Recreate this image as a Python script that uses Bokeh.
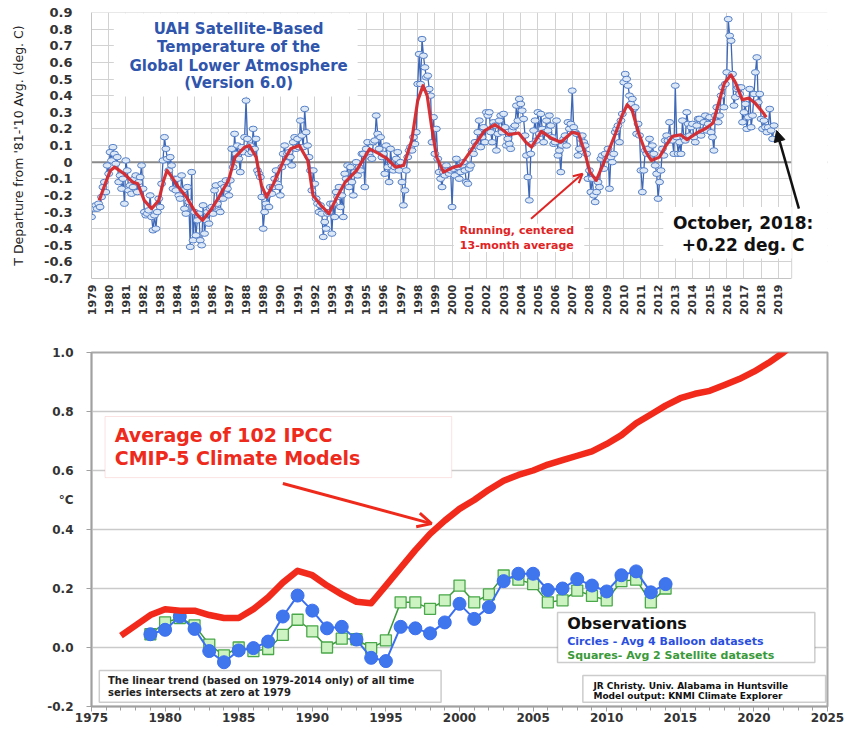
import math
from bokeh.plotting import figure
from bokeh.models import (Range1d, FixedTicker, Span, BoxAnnotation, Label, Arrow,
                          OpenHead, NormalHead, NumeralTickFormatter)
from bokeh.layouts import column
from bokeh.embed import file_html
from bokeh.resources import INLINE

FONT = "DejaVu Sans"

# ---------------- top chart data: UAH v6.0 monthly anomalies ----------------
uah_1979_1988 = [
    -0.33, -0.27, -0.28, -0.26, -0.28, -0.25, -0.27, -0.21, -0.15, -0.12, -0.18, -0.02,
    -0.07, 0.06, 0.01, 0.09, 0.05, -0.01, 0.03, -0.12, -0.08, -0.16, -0.10, -0.25,
    0.01, -0.05, -0.17, -0.14, -0.19, -0.15, -0.10, -0.08, -0.18, -0.12, -0.09, -0.02,
    -0.16, -0.30, -0.32, -0.31, -0.29, -0.20, -0.33, -0.41, -0.32, -0.40, -0.30, -0.22,
    -0.27, -0.13, 0.01, 0.15, 0.08, 0.02, -0.05, 0.03, -0.02, -0.16, -0.10, -0.17,
    -0.10, -0.20, -0.22, -0.08, -0.17, -0.28, -0.31, -0.15, -0.24, -0.51, -0.06, -0.47,
    -0.30, -0.44, -0.35, -0.31, -0.47, -0.50, -0.26, -0.43, -0.35, -0.30, -0.37, -0.28,
    -0.27, -0.31, -0.17, -0.14, -0.25, -0.29, -0.30, -0.13, -0.22, -0.15, -0.11, -0.16,
    -0.20, -0.11, 0.08, -0.03, 0.17, 0.05, 0.10, 0.02, -0.06, 0.09, 0.06, 0.15,
    0.37, 0.14, 0.05, 0.10, 0.06, 0.20, 0.08, 0.14, -0.05, -0.07, -0.09, -0.21,
]
uah_1989_1998 = [
    -0.40, -0.30, -0.25, -0.20, -0.27, -0.15, -0.19, -0.15, -0.10, -0.05, -0.13, -0.15,
    -0.20, -0.03, 0.05, 0.10, 0.00, 0.05, 0.06, 0.03, -0.02, 0.12, 0.15, 0.08,
    0.14, 0.09, 0.25, 0.16, 0.09, 0.32, 0.18, 0.10, 0.03, -0.05, -0.17, -0.05,
    -0.13, -0.22, -0.25, -0.30, -0.26, -0.31, -0.45, -0.36, -0.40, -0.31, -0.30, -0.25,
    -0.43, -0.25, -0.33, -0.18, -0.21, -0.15, -0.27, -0.20, -0.33, -0.07, -0.10, -0.02,
    -0.15, -0.03, -0.12, -0.20, -0.06, 0.00, -0.08, -0.03, -0.05, 0.05, 0.05, -0.15,
    0.08, 0.12, 0.05, 0.03, 0.02, 0.12, 0.13, 0.28, 0.17, 0.08, 0.15, 0.03,
    0.05, -0.07, 0.10, -0.03, -0.12, 0.08, -0.02, -0.05, -0.03, 0.02, 0.06, -0.05,
    0.00, -0.12, -0.26, -0.17, -0.05, 0.03, 0.07, 0.09, 0.07, 0.15, 0.11, 0.18,
    0.47, 0.65, 0.47, 0.74, 0.64, 0.57, 0.51, 0.52, 0.44, 0.40, 0.12, 0.27,
]
uah_1999_2008 = [
    0.05, 0.20, 0.02, -0.06, -0.10, -0.15, -0.06, -0.08, -0.02, -0.05, -0.07, -0.05,
    -0.27, -0.04, -0.08, 0.02, -0.03, -0.10, -0.06, -0.02, 0.00, -0.05, -0.12, -0.13,
    -0.04, -0.02, 0.07, 0.05, 0.12, 0.10, 0.18, 0.25, 0.09, 0.15, 0.21, 0.12,
    0.30, 0.28, 0.30, 0.18, 0.12, 0.24, 0.22, 0.07, 0.17, 0.25, 0.28, 0.18,
    0.29, 0.21, 0.10, 0.14, 0.11, 0.08, 0.19, 0.21, 0.22, 0.34, 0.25, 0.38,
    0.35, 0.31, 0.26, 0.16, 0.04, -0.09, -0.23, 0.05, 0.11, 0.19, 0.25, 0.13,
    0.30, 0.17, 0.29, 0.20, 0.12, 0.18, 0.25, 0.19, 0.28, 0.22, 0.15, 0.11,
    0.12, 0.25, 0.04, 0.07, -0.06, 0.10, 0.14, 0.16, 0.10, 0.24, 0.20, 0.23,
    0.43, 0.21, 0.18, 0.17, 0.04, 0.08, 0.14, 0.16, 0.12, 0.10, 0.05, -0.10,
    -0.05, -0.18, -0.10, -0.20, -0.24, -0.18, -0.12, -0.15, 0.02, 0.04, -0.04, 0.05,
]
uah_2009_2018 = [
    0.02, 0.08, -0.16, 0.03, 0.00, 0.05, 0.18, 0.20, 0.22, 0.12, 0.25, 0.29,
    0.48, 0.53, 0.50, 0.46, 0.40, 0.35, 0.38, 0.32, 0.33, 0.17, 0.23, 0.16,
    -0.05, -0.18, -0.05, 0.07, 0.05, 0.08, 0.14, 0.04, 0.10, 0.05, -0.02, -0.07,
    -0.22, -0.12, -0.05, 0.08, 0.04, 0.13, 0.16, 0.13, 0.24, 0.14, 0.13, 0.05,
    0.46, 0.15, 0.05, 0.12, 0.05, 0.25, 0.15, 0.13, 0.30, 0.23, 0.16, 0.21,
    0.23, 0.15, 0.12, 0.22, 0.26, 0.26, 0.16, 0.19, 0.24, 0.28, 0.19, 0.23,
    0.27, 0.18, 0.15, 0.07, 0.28, 0.33, 0.24, 0.28, 0.40, 0.45, 0.33, 0.47,
    0.54, 0.86, 0.76, 0.73, 0.53, 0.34, 0.39, 0.44, 0.45, 0.41, 0.45, 0.24,
    0.30, 0.35, 0.20, 0.27, 0.44, 0.21, 0.28, 0.41, 0.54, 0.63, 0.36, 0.41,
    0.26, 0.20, 0.25, 0.21, 0.18, 0.21, 0.32, 0.19, 0.14, 0.22,
]
# running, centered 13-month average
ra_x = [1979.45, 1979.8, 1980.1, 1980.35, 1980.9, 1981.4, 1981.7, 1982.07, 1982.5, 1982.92,
        1983.2, 1983.4, 1983.68, 1984.06, 1984.53, 1985.1, 1985.47, 1985.94, 1986.42, 1986.98,
        1987.36, 1987.92, 1988.2, 1988.59, 1988.9, 1989.2, 1989.6, 1990.2, 1990.6, 1991.1,
        1991.6, 1991.9, 1992.36, 1992.83, 1993.3, 1993.78, 1994.44, 1995.2, 1995.76, 1996.23,
        1996.7, 1997.18, 1997.65, 1998.0, 1998.31, 1998.55, 1998.8, 1999.1, 1999.5, 2000.1,
        2000.5, 2001.04, 2001.5, 2001.9, 2002.5, 2002.93, 2003.3, 2003.88, 2004.3, 2004.63,
        2005.2, 2005.76, 2006.33, 2006.99, 2007.37, 2007.75, 2008.03, 2008.4, 2008.97, 2009.53,
        2009.92, 2010.2, 2010.48, 2010.86, 2011.24, 2011.6, 2012.08, 2012.46, 2012.83, 2013.31,
        2013.69, 2014.25, 2014.82, 2015.2, 2015.58, 2015.86, 2016.24, 2016.52, 2016.9, 2017.28,
        2017.65, 2018.13, 2018.3]
ra_y = [-0.23, -0.13, -0.05, -0.03, -0.07, -0.12, -0.13, -0.23, -0.28, -0.23,
        -0.11, -0.05, -0.09, -0.15, -0.21, -0.31, -0.35, -0.29, -0.21, -0.11,
        0.03, 0.09, 0.10, 0.03, -0.14, -0.21, -0.13, 0.01, 0.08, 0.10,
        0.01, -0.20, -0.26, -0.31, -0.21, -0.12, -0.05, 0.08, 0.05, 0.02,
        -0.03, -0.02, 0.13, 0.37, 0.46, 0.40, 0.22, 0.03, -0.06, -0.03,
        -0.02, 0.06, 0.13, 0.19, 0.225, 0.195, 0.165, 0.175, 0.12, 0.09,
        0.185, 0.145, 0.12, 0.18, 0.17, 0.05, -0.06, -0.11, 0.03, 0.175,
        0.285, 0.345, 0.315, 0.175, 0.07, 0.01, 0.03, 0.10, 0.155, 0.165,
        0.135, 0.175, 0.205, 0.235, 0.375, 0.475, 0.525, 0.475, 0.375, 0.385,
        0.355, 0.295, 0.27]
top_years = list(range(1979, 2020))
top_yticks = [-0.7, -0.6, -0.5, -0.4, -0.3, -0.2, -0.1, 0, 0.1, 0.2, 0.3, 0.4, 0.5, 0.6, 0.7, 0.8, 0.9]
title_lines = ["UAH Satellite-Based", "Temperature of the", "Global Lower Atmosphere", "(Version 6.0)"]

# ---------------- bottom chart data ----------------
model_years = list(range(1977, 2024))
model_avg = [0.04, 0.075, 0.11, 0.13, 0.125, 0.125, 0.11, 0.10, 0.10, 0.13, 0.17, 0.22, 0.26, 0.245,
             0.21, 0.18, 0.155, 0.15, 0.21, 0.27, 0.33, 0.385, 0.43, 0.47, 0.50, 0.535, 0.565,
             0.585, 0.60, 0.62, 0.635, 0.65, 0.665, 0.69, 0.72, 0.76, 0.79, 0.82, 0.845, 0.86,
             0.87, 0.89, 0.91, 0.935, 0.965, 1.0, 1.04]
obs_years = list(range(1979, 2015))
balloon = [0.045, 0.06, 0.105, 0.063, -0.012, -0.05, -0.01, -0.002, 0.02, 0.105, 0.176, 0.125,
           0.065, 0.07, 0.027, -0.035, -0.046, 0.07, 0.065, 0.048, 0.085, 0.148, 0.097, 0.137,
           0.225, 0.25, 0.25, 0.195, 0.2, 0.232, 0.21, 0.19, 0.245, 0.258, 0.187, 0.215]
satellite = [0.045, 0.085, 0.10, 0.075, 0.01, -0.027, 0.0, -0.012, -0.005, 0.043, 0.094, 0.055,
             0.0, 0.03, 0.028, -0.002, 0.024, 0.153, 0.153, 0.131, 0.16, 0.21, 0.153, 0.18,
             0.244, 0.23, 0.215, 0.153, 0.16, 0.193, 0.175, 0.16, 0.225, 0.23, 0.153, 0.2]
bot_xticks = [1975, 1980, 1985, 1990, 1995, 2000, 2005, 2010, 2015, 2020, 2025]
bot_yticks = [-0.2, 0.0, 0.2, 0.4, 0.6, 0.8, 1.0]
bot_ylabels = [-0.2, 0.0, 0.2, 0.4, 0.5, 0.6, 0.8, 1.0]   # 0.5 carries the unit label


def lab(p, x, y, text, size, color, align="left", bold=True, **kw):
    p.add_layout(Label(x=x, y=y, text=text, text_font=FONT, text_font_size=f"{size}px",
                       text_font_style="bold" if bold else "normal", text_color=color,
                       text_align=align, text_baseline="middle", **kw))


GRID = "#d2d2d2"
X_END_DATA = 2019.78
X_END_FRAME = 1979 + 757 / 17.66

# ======================= TOP FIGURE =======================
monthly = uah_1979_1988 + uah_1989_1998 + uah_1999_2008 + uah_2009_2018
mx = [1979 + i / 12 for i in range(len(monthly))]

p1 = figure(width=848, height=330, x_range=Range1d(1979, X_END_FRAME), y_range=Range1d(-0.7, 0.9),
            output_backend="svg", toolbar_location=None,
            min_border_left=91, min_border_right=0, min_border_top=12, min_border_bottom=52)
p1.background_fill_color = "white"
p1.outline_line_color = None
p1.xaxis.ticker = FixedTicker(ticks=top_years)
p1.xgrid.ticker = FixedTicker(ticks=top_years)
p1.yaxis.ticker = FixedTicker(ticks=top_yticks)
p1.ygrid.ticker = FixedTicker(ticks=top_yticks)
p1.yaxis.formatter = NumeralTickFormatter(format="0.0")
p1.yaxis.major_label_overrides = {0: "0"}
for g in (p1.xgrid, p1.ygrid):
    g.grid_line_color = GRID
    g.grid_line_width = 1
p1.xaxis.major_label_orientation = math.pi / 2
p1.xaxis.bounds = (1979, X_END_DATA)
for ax in (p1.xaxis, p1.yaxis):
    ax.axis_line_color = "#c4c4c4"
    ax.major_tick_line_color = None
    ax.minor_tick_line_color = None
    ax.major_tick_out = 0
    ax.major_tick_in = 0
    ax.major_label_text_font = FONT
    ax.major_label_text_font_style = "bold"
    ax.major_label_text_color = "#333333"
p1.xaxis.major_label_text_font_size = "11px"
p1.xaxis.major_label_standoff = 6
p1.yaxis.major_label_text_font_size = "13px"
p1.yaxis.major_label_standoff = 19
p1.yaxis.axis_label = "T Departure from '81-'10 Avg. (deg. C)"
p1.yaxis.axis_label_text_font = FONT
p1.yaxis.axis_label_text_font_size = "12.5px"
p1.yaxis.axis_label_text_font_style = "normal"
p1.yaxis.axis_label_text_color = "#222222"
p1.yaxis.axis_label_standoff = 15

p1.add_layout(Span(location=0.9, dimension="width", line_color=GRID, line_width=1, level="underlay"))
p1.add_layout(Span(location=0, dimension="width", line_color="#8a8a8a", line_width=2, level="underlay"))

p1.line(mx, monthly, line_color="#3d68b8", line_width=1.3)
p1.ellipse(x=mx, y=monthly, width=8, height=5.5, width_units="screen", height_units="screen",
           fill_color="#dde8f6", line_color="#5580c8", line_width=1)
p1.line(ra_x, ra_y, line_color="#d5282c", line_width=3.2, line_join="round", line_alpha=0.95)

# blank area right of the data region
p1.add_layout(BoxAnnotation(left=X_END_DATA, right=X_END_FRAME + 1, bottom=-0.8, top=1.0,
                            fill_color="white", fill_alpha=1, line_color=None))
p1.add_layout(Span(location=X_END_DATA, dimension="height", line_color=GRID, line_width=1))

# title box
p1.add_layout(BoxAnnotation(left=1980.3, right=1994.5, bottom=0.395, top=0.895,
                            fill_color="white", fill_alpha=1, line_color=None))
for t, yy in zip(title_lines, [0.80, 0.69, 0.58, 0.475]):
    lab(p1, 1987.57, yy, t, 15, "#2f55ac", align="center")

# running-average note
p1.add_layout(BoxAnnotation(left=2000.1, right=2007.7, top=-0.37, bottom=-0.54,
                            fill_color="white", fill_alpha=1, line_color=None))
lab(p1, 2003.77, -0.41, "Running, centered", 11, "#e02424", align="center")
lab(p1, 2003.77, -0.50, "13-month average", 11, "#e02424", align="center")
p1.add_layout(Arrow(end=OpenHead(line_color="#e02424", line_width=2, size=9),
                    x_start=2004.6, y_start=-0.34, x_end=2007.6, y_end=-0.07,
                    line_color="#e02424", line_width=2))

# October 2018 note
p1.add_layout(BoxAnnotation(left=2012.3, right=X_END_DATA, top=-0.27, bottom=-0.58,
                            fill_color="white", fill_alpha=1, line_color=None))
lab(p1, 2016.95, -0.367, "October, 2018:", 17, "#111111", align="center")
lab(p1, 2016.95, -0.50, "+0.22 deg. C", 17, "#111111", align="center")
p1.add_layout(Arrow(end=NormalHead(fill_color="#111111", line_color="#111111", size=11),
                    x_start=2020.2, y_start=-0.28, x_end=2018.9, y_end=0.19,
                    line_color="#111111", line_width=2.5))

# ======================= BOTTOM FIGURE =======================
p2 = figure(width=848, height=398, x_range=Range1d(1975, 2025), y_range=Range1d(-0.2, 1.0),
            output_backend="svg", toolbar_location=None,
            min_border_left=68, min_border_right=21, min_border_top=22, min_border_bottom=22)
p2.outline_line_color = "#a8a8a8"
p2.outline_line_width = 2
p2.xgrid.grid_line_color = None
p2.ygrid.ticker = FixedTicker(ticks=bot_yticks)
p2.ygrid.grid_line_color = "#cacaca"
p2.ygrid.grid_line_width = 1.5
p2.xaxis.ticker = FixedTicker(ticks=bot_xticks, minor_ticks=list(range(1975, 2026)))
p2.yaxis.ticker = FixedTicker(ticks=bot_ylabels, minor_ticks=bot_yticks)
p2.yaxis.formatter = NumeralTickFormatter(format="0.0")
p2.yaxis.major_label_overrides = {0.5: "°C"}
for ax in (p2.xaxis, p2.yaxis):
    ax.axis_line_color = "#a0a0a0"
    ax.axis_line_width = 1.5
    ax.major_tick_line_color = "#a0a0a0"
    ax.minor_tick_line_color = "#a0a0a0"
    ax.major_tick_in = 0
    ax.minor_tick_in = 0
    ax.major_tick_out = 5
    ax.minor_tick_out = 4
    ax.major_label_text_font = FONT
    ax.major_label_text_font_style = "bold"
    ax.major_label_text_font_size = "12px"
    ax.major_label_text_color = "#333333"
p2.yaxis.major_tick_line_color = None
p2.yaxis.minor_tick_out = 5
p2.xaxis.major_label_standoff = 1
p2.yaxis.major_label_standoff = 13

p2.line(obs_years, satellite, line_color="#3c9a3c", line_width=1.5)
p2.scatter(obs_years, satellite, marker="square", size=11, fill_color="#cdf3c3",
           line_color="#4aa84a", line_width=1.3)
p2.line(obs_years, balloon, line_color="#3a6ff0", line_width=2)
p2.scatter(obs_years, balloon, marker="circle", size=13, fill_color="#3f76ee",
           line_color="#3a6ff0", line_width=1)
p2.line(model_years, model_avg, line_color="#f22a1c", line_width=6.5, line_join="round")

# IPCC note
p2.add_layout(BoxAnnotation(left=1975.92, right=1999.47, bottom=0.576, top=0.783,
                            fill_color="white", fill_alpha=1, line_color="#f2a0a0", line_width=1))
lab(p2, 1976.58, 0.722, "Average of 102 IPCC", 19, "#ee2a1c")
lab(p2, 1976.58, 0.641, "CMIP-5 Climate Models", 19, "#ee2a1c")
p2.add_layout(Arrow(end=OpenHead(line_color="#ee2a1c", line_width=3, size=14),
                    x_start=1988.0, y_start=0.556, x_end=1998.1, y_end=0.42,
                    line_color="#ee2a1c", line_width=3))

# Observations legend box
p2.add_layout(BoxAnnotation(left=2006.66, right=2024.14, bottom=-0.051, top=0.119,
                            fill_color="white", fill_alpha=1, line_color="#555555", line_width=1.5))
lab(p2, 2007.32, 0.081, "Observations", 16, "#111111")
lab(p2, 2007.32, 0.020, "Circles - Avg 4 Balloon datasets", 11, "#2a4fe0")
lab(p2, 2007.32, -0.027, "Squares- Avg 2 Satellite datasets", 11, "#3a9a3a")

# linear trend note
p2.add_layout(BoxAnnotation(left=1975.53, right=1998.75, bottom=-0.186, top=-0.078,
                            fill_color="white", fill_alpha=1, line_color="#555555", line_width=1.5))
lab(p2, 1976.12, -0.112, "The linear trend (based on 1979-2014 only) of all time", 10, "#222222")
lab(p2, 1976.12, -0.151, "series intersects at zero at 1979", 10, "#222222")

# credit
p2.add_layout(BoxAnnotation(left=2008.38, right=2024.87, bottom=-0.186, top=-0.095,
                            fill_color="white", fill_alpha=1, line_color="#555555", line_width=1.5))
lab(p2, 2009.1, -0.129, "JR Christy. Univ. Alabama in Huntsville", 9, "#111111")
lab(p2, 2009.1, -0.166, "Model output: KNMI Climate Explorer", 9, "#111111")

layout = column(p1, p2, spacing=0)
open("out.html", "w").write(file_html(layout, INLINE))
